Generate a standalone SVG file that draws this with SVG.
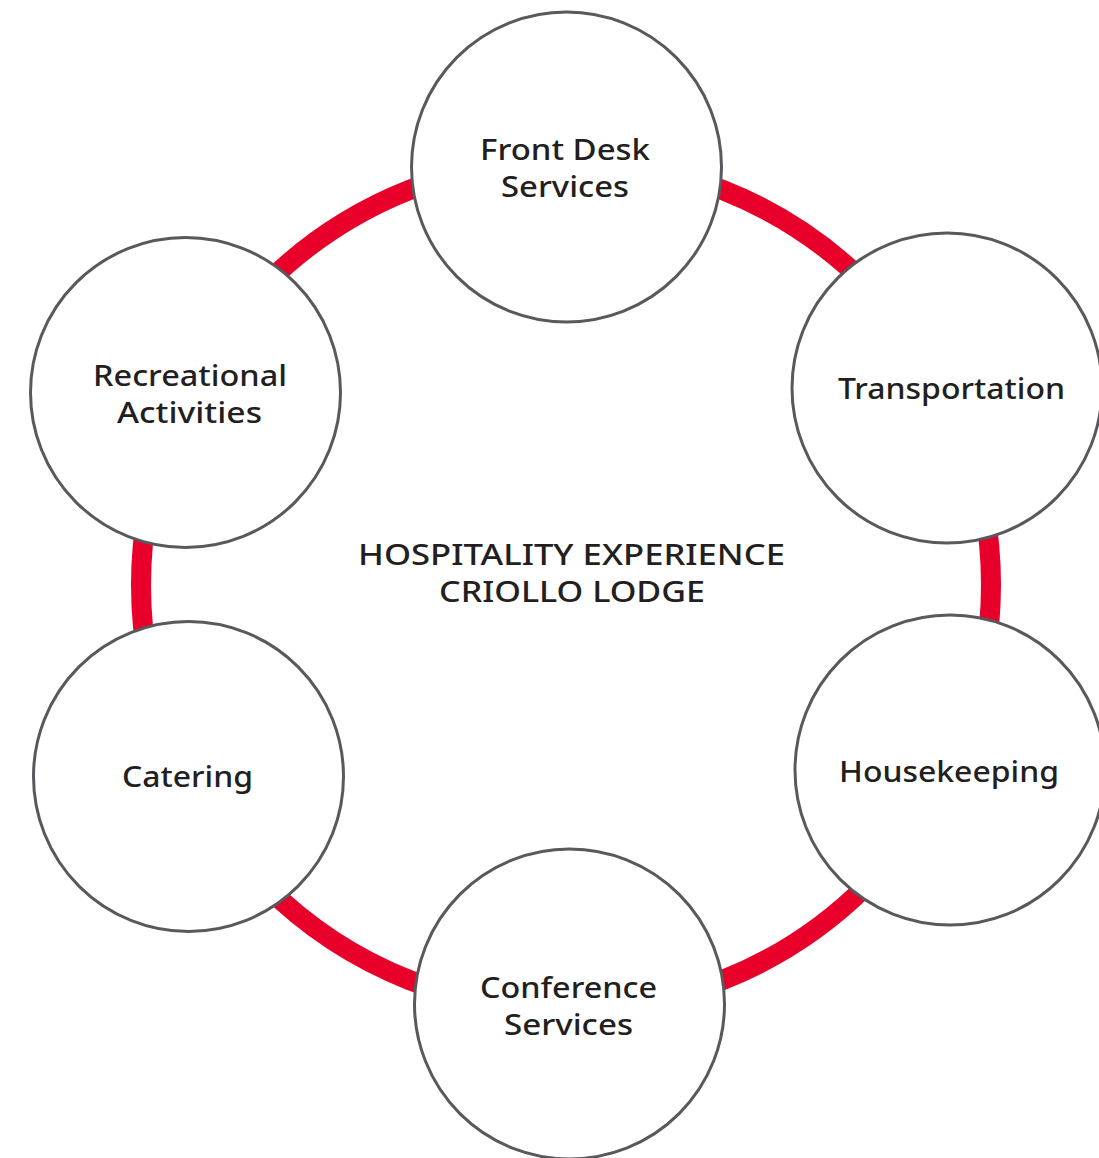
<svg xmlns="http://www.w3.org/2000/svg" width="1099" height="1158" viewBox="0 0 1099 1158">
  <style>
    .node circle { fill: #ffffff; stroke: #58585d; stroke-width: 3; }
    .label { font-family: "Noto Sans", "Liberation Sans", sans-serif; font-size: 29px; font-weight: 500; fill: #231f20; text-anchor: middle; }
    .title { font-family: "Noto Sans", "Liberation Sans", sans-serif; font-size: 28px; font-weight: 500; fill: #231f20; text-anchor: middle; }
  </style>
  <rect width="1099" height="1158" fill="#ffffff"/>
  <g id="connectors">
    <circle cx="566" cy="585" r="425" fill="none" stroke="#e8002b" stroke-width="20"/>
  </g>
  <g id="center-title">
    <text class="title" x="571.5" y="565" textLength="427" lengthAdjust="spacingAndGlyphs">HOSPITALITY EXPERIENCE</text>
    <text class="title" x="572" y="602" textLength="266" lengthAdjust="spacingAndGlyphs">CRIOLLO LODGE</text>
  </g>
  <g id="node-front-desk" class="node">
    <circle cx="566.5" cy="167" r="155"/>
    <text class="label" x="565" y="160" textLength="170" lengthAdjust="spacingAndGlyphs">Front Desk</text>
    <text class="label" x="565" y="197" textLength="128" lengthAdjust="spacingAndGlyphs">Services</text>
  </g>
  <g id="node-transportation" class="node">
    <circle cx="947" cy="388" r="155"/>
    <text class="label" x="951.5" y="399" textLength="227" lengthAdjust="spacingAndGlyphs">Transportation</text>
  </g>
  <g id="node-housekeeping" class="node">
    <circle cx="950" cy="770" r="155"/>
    <text class="label" x="949" y="782" textLength="220" lengthAdjust="spacingAndGlyphs">Housekeeping</text>
  </g>
  <g id="node-conference" class="node">
    <circle cx="569.5" cy="1004" r="155"/>
    <text class="label" x="568.5" y="998" textLength="177" lengthAdjust="spacingAndGlyphs">Conference</text>
    <text class="label" x="568.5" y="1035" textLength="129" lengthAdjust="spacingAndGlyphs">Services</text>
  </g>
  <g id="node-catering" class="node">
    <circle cx="188.5" cy="776.5" r="155"/>
    <text class="label" x="187.5" y="787" textLength="131" lengthAdjust="spacingAndGlyphs">Catering</text>
  </g>
  <g id="node-recreational" class="node">
    <circle cx="185.5" cy="392.5" r="155"/>
    <text class="label" x="190" y="386" textLength="194" lengthAdjust="spacingAndGlyphs">Recreational</text>
    <text class="label" x="189.5" y="423" textLength="145" lengthAdjust="spacingAndGlyphs">Activities</text>
  </g>
</svg>
